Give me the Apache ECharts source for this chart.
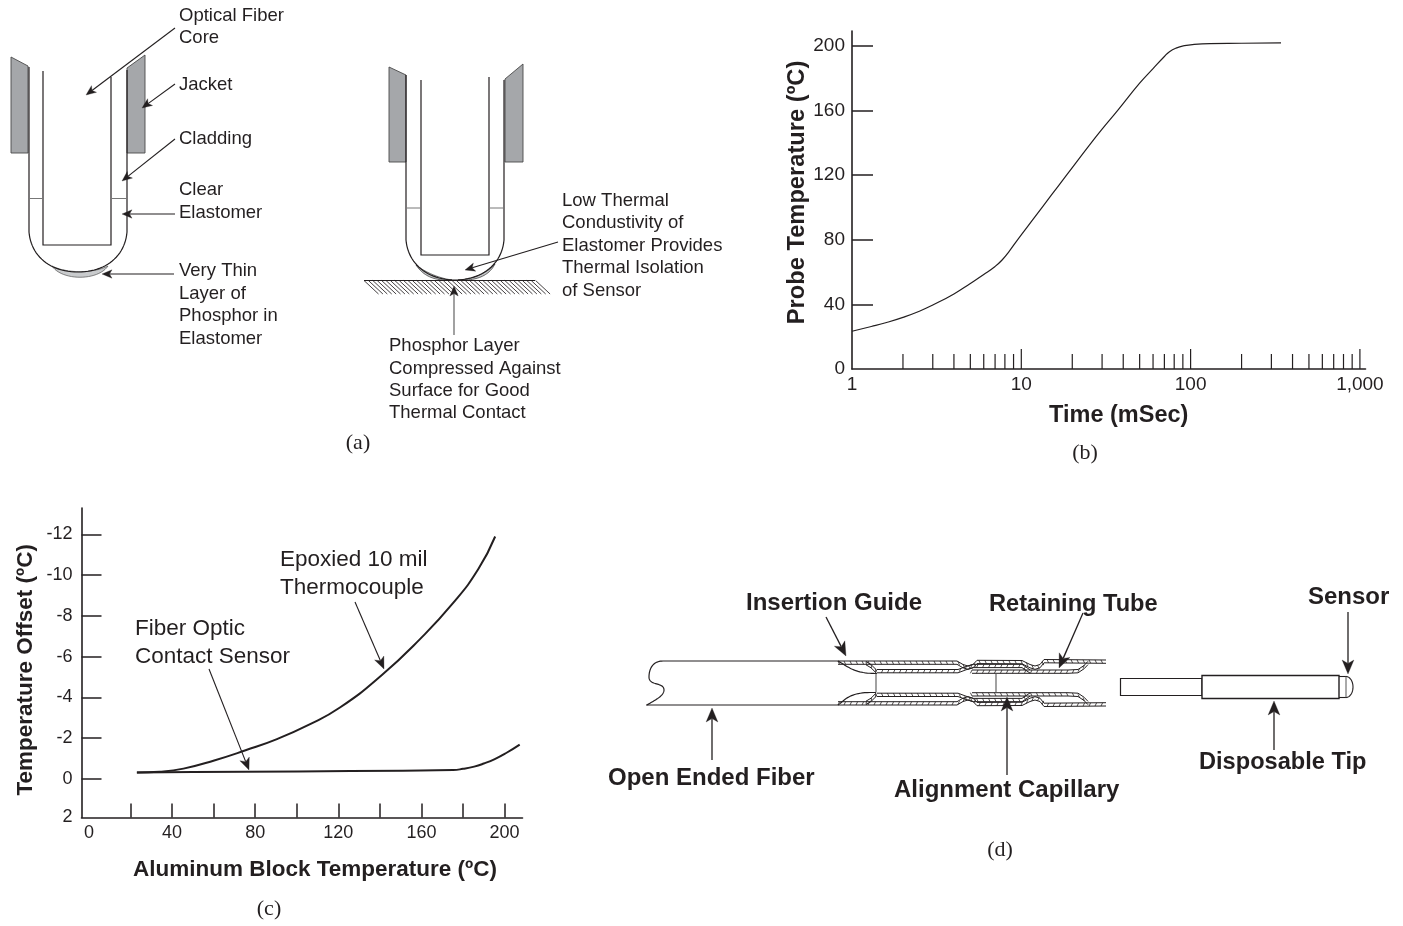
<!DOCTYPE html>
<html><head><meta charset="utf-8">
<style>html,body{margin:0;padding:0;background:#fff}#c{width:1403px;height:926px}</style>
<script src="https://cdn.jsdelivr.net/npm/echarts@6/dist/echarts.min.js"></script>
</head><body><div id="c"></div>
<script>
// ---- data: panel (b)
const timeMs = [1,1.3,1.6,2,2.5,3,4,5,6,7,7.7,8.5,9.5,12,15,18.5,25,30,37,50,60,70,75,82,92,105,130,200,342];
const probeTemp = [23.4,26.3,28.8,32,35.8,39.6,46.5,53,58.5,63.5,67.5,73,80,94,107.5,120,138,148.5,160,177,186,193.5,196.5,198.7,200.2,201,201.5,201.7,202];
const bMajorTicks = [10,100,1000];
const bMinorTicks = [2,3,4,5,6,7,8,9,20,30,40,50,60,70,80,90,200,300,400,500,600,700,800,900];
const bXLabels = {1:'1',10:'10',100:'100',1000:'1,000'};
const bYTicks = [40,80,120,160,200];
const bYLabels = [0,40,80,120,160,200];
// ---- data: panel (c)
const tcTemp = [23.1,34,45.5,60.3,75.4,90.5,105.7,120.8,141,159.2,175.4,187.4,195.5];
const tcOffset = [-0.31,-0.35,-0.5,-0.9,-1.4,-1.95,-2.65,-3.5,-5.1,-6.85,-8.65,-10.3,-11.9];
const foTemp = [23.1,50,100.6,151,175.3,180,185.4,190,195.3,201,207.3];
const foOffset = [-0.31,-0.33,-0.36,-0.4,-0.43,-0.49,-0.6,-0.75,-0.97,-1.28,-1.68];
const cXTicks = [20,40,60,80,100,120,140,160,180,200];
const cXLabels = [0,40,80,120,160,200];
const cYTicks = [-12,-10,-8,-6,-4,-2,0];
const cYLabels = [-12,-10,-8,-6,-4,-2,0,1.9];

const INK='#231f20', SANS='"Liberation Sans",Arial,sans-serif', SERIF='"Liberation Serif",serif';
const g=[];
function zip(a,b){return a.map((v,i)=>[v,b[i]]);}
function line(pts,w,color){g.push({type:'polyline',silent:true,shape:{points:pts},style:{stroke:color||INK,lineWidth:w||1.2,fill:null}});}
function poly(pts,fill,stroke,w){g.push({type:'polygon',silent:true,shape:{points:pts},style:{fill:fill,stroke:stroke||fill,lineWidth:w||0.8}});}
function bez(p0,c1,c2,p1,n){const r=[];n=n||24;for(let i=0;i<=n;i++){const t=i/n,u=1-t;
 r.push([u*u*u*p0[0]+3*u*u*t*c1[0]+3*u*t*t*c2[0]+t*t*t*p1[0],u*u*u*p0[1]+3*u*u*t*c1[1]+3*u*t*t*c2[1]+t*t*t*p1[1]]);}return r;}
function arrow(x1,y1,x2,y2,w,s,color){
 const a=Math.atan2(y2-y1,x2-x1);s=s||10;const hw=s*0.42;
 const bx=x2-s*Math.cos(a),by=y2-s*Math.sin(a),nx=x2-s*0.75*Math.cos(a),ny=y2-s*0.75*Math.sin(a);
 line([[x1,y1],[nx,ny]],w||1.1,color);
 poly([[x2,y2],[bx-hw*Math.sin(a),by+hw*Math.cos(a)],[nx,ny],[bx+hw*Math.sin(a),by-hw*Math.cos(a)]],INK,INK,0.3);
}
function text(s,x,y,size,opt){opt=opt||{};g.push({type:'text',silent:true,x:x,y:y+1,style:{text:s,fill:opt.color||INK,font:(opt.bold?'bold ':'')+size+'px '+(opt.family||SANS),textAlign:opt.align||'left',textVerticalAlign:'middle'}});}

// ---- panel (a), left probe
const GREY='#a5a7aa';
poly([[11,57],[28,66],[28,153],[11,153]],GREY,'#4a4a4a',0.9);
poly([[127,68],[145,55],[145,153],[127,153]],GREY,'#4a4a4a',0.9);
poly(bez([52,266],[65,273],[92,274],[108,266]).concat(bez([108,266],[98,281],[62,281],[52,266])),'#c9cbcd','#555',0.7);
line([[29,67],[29,232]].concat(bez([29,232],[31,256],[50,272],[78,272]),bez([78,272],[106,272],[125,256],[127,232]),[[127,70]]),1.2);
line([[43,71],[43,245],[111,245],[111,77]],1.2);
line([[29,198.5],[43,198.5]],1,'#777');line([[112,198.5],[127,198.5]],1,'#777');
arrow(175,28,86,95);arrow(175,84,142,108);arrow(175,139,122,181);arrow(175,214,122,214);arrow(174,274,102,274);
[['Optical Fiber',15],['Core',37],['Jacket',84],['Cladding',138],['Clear',189],['Elastomer',212],['Very Thin',270],['Layer of',293],['Phosphor in',315],['Elastomer',338]].forEach(t=>text(t[0],179,t[1],18.5));

// ---- panel (a), right probe
poly([[389,67],[406,75],[406,162],[389,162]],GREY,'#4a4a4a',0.9);
poly([[505,79],[523,64],[523,162],[505,162]],GREY,'#4a4a4a',0.9);
poly(bez([416,265],[425,272],[438,278],[452,280]).concat(bez([452,280],[436,281],[424,277],[416,265])),'#c4c6c8','#333',0.7);
poly(bez([458,280],[472,279],[486,274],[495,264]).concat(bez([495,264],[489,276],[476,281],[458,280])),'#c4c6c8','#333',0.7);
line([[406,75],[406,240]].concat(bez([406,240],[408,264],[428,280],[455,280]),bez([455,280],[482,280],[502,264],[504,240]),[[504,80]]),1.2);
line([[421,80],[421,255],[489,255],[489,77]],1.2);
line([[407,208],[421,208]],1,'#777');line([[490,208],[504,208]],1,'#777');
line([[364,280.5],[535,280.5]],1.2);
for(let x=364;x<=536;x+=4.4){line([[x,280.5],[x+14.5,294]],0.85,INK);}
arrow(558,242,465,270);arrow(454,335,454,286,1.1,10,'#555');
[['Low Thermal',200],['Condustivity of',222],['Elastomer Provides',245],['Thermal Isolation',267],['of Sensor',290]].forEach(t=>text(t[0],562,t[1],18.5));
[['Phosphor Layer',345],['Compressed Against',368],['Surface for Good',390],['Thermal Contact',412]].forEach(t=>text(t[0],389,t[1],18.5));

// ---- panel (c) callouts
text('Epoxied 10 mil',280,559,22.5);text('Thermocouple',280,587,22.5);
text('Fiber Optic',135,628,22.5);text('Contact Sensor',135,656,22.5);
arrow(355,602,384,669,1.1,12);arrow(209,669,249,770,1.1,12);

// ---- panel (d)
function band(pts,th,mirror,slant){
 const cy=683,m=p=>mirror?[p[0],2*cy-p[1]]:p;
 const lower=pts.map(p=>[p[0],p[1]+th]);
 line(pts.map(m),1);line(lower.map(m),1);
 let carry=0;
 for(let i=0;i<pts.length-1;i++){
  const a=pts[i],b=pts[i+1],len=Math.hypot(b[0]-a[0],b[1]-a[1]);
  for(let t=carry;t<len;t+=6){const k=t/len,x=a[0]+(b[0]-a[0])*k,y=a[1]+(b[1]-a[1])*k;
   line([m([x,y]),m([x+slant,y+th])],0.8,INK);carry=t+6-len;}
 }
}
const outerTop=[[838,661],[957,661],[963,664.5],[968,666],[973,664.5],[977,660.3],[1022,660.5],[1030,664.5],[1035,666],[1040,664.5],[1044,659.5],[1106,660]];
const midBand=[[877,669.5],[958,669.5],[966,666.5],[973,664.3],[1022,664.3],[1030,669.8]];
const innerBand=[[972,670],[1030,670],[1068,670],[1078,669.5],[1084,665.5],[1088,661.3]];
const sleeve=[[866,661.5],[871,664.5],[876,669.5]];
[false,true].forEach(mir=>{band(outerTop,3.3,mir,1.6);band(midBand,3.3,mir,-1.6);band(innerBand,3.3,mir,-1.6);band(sleeve,3.3,mir,0.5);});
line([[646,705],[838,705]].concat(bez([838,705],[843,702],[848,692.5],[870,692.5]),[[876,692.5]]),1.2);
line(bez([838,661],[850,668],[855,673.5],[877,673.5]),1.2);
line([[663,661],[838,661]],1.2);
line(bez([663,661],[652,661],[649,670],[649,677]).concat(bez([649,677],[649,686],[664,682],[664,690]),bez([664,690],[664,696],[655,700],[647,705])),1.2);
line([[876,673.5],[876,692.5]],1.1,'#555');line([[996,673.5],[996,692.5]],1.1,'#555');
poly([[1120.5,678.5],[1202,678.5],[1202,695.5],[1120.5,695.5]],'#fff',INK,1.2);
poly([[1202,675.5],[1339,675.5],[1339,698.5],[1202,698.5]],'#fff',INK,1.4);
line([[1339,676.5],[1347,676.5]],1.1);line([[1339,697.5],[1347,697.5]],1.1);line([[1346,676.5],[1346,697.5]],1,'#555');
line(bez([1347,676.5],[1355,679],[1355,695],[1347,697.5]),1.1);
arrow(826,617,846,656,1.3,14);arrow(1083,613,1059,668,1.3,14);arrow(1007,775,1007,697,1.3,14);
arrow(712,760,712,708,1.3,14);arrow(1348,612,1348,674,1.3,14);arrow(1274,750,1274,701,1.3,14);
[['Insertion Guide',746,602,24],['Retaining Tube',989,603,23.6],['Sensor',1308,596,24],['Open Ended Fiber',608,777,24],['Alignment Capillary',894,789,24],['Disposable Tip',1199,761,23.6]].forEach(t=>text(t[0],t[1],t[2],t[3],{bold:true}));

// ---- captions
[['(a)',358,442],['(b)',1085,452],['(c)',269,908],['(d)',1000,849]].forEach(t=>text(t[0],t[1],t[2],22,{family:SERIF,align:'center'}));

const axisCommon={axisLine:{onZero:false,lineStyle:{color:INK,width:1.6}},splitLine:{show:false},minorTick:{show:false}};
const labelStyle=s=>({color:INK,fontFamily:SANS,fontSize:s});
const nameStyle=(s,p)=>({color:INK,fontFamily:SANS,fontSize:s,fontWeight:'bold',padding:p});

const option={
 animation:false,backgroundColor:'#fff',
 grid:[
  {left:852,width:513.5,top:31,height:338},
  {left:81.5,width:441,top:508,height:309.5}
 ],
 xAxis:[
  Object.assign({},axisCommon,{gridIndex:0,type:'log',logBase:10,min:1,max:1079,position:'bottom',
   axisTick:{show:false},
   axisLabel:Object.assign(labelStyle(19),{margin:6,hideOverlap:false,showMinLabel:true,showMaxLabel:false,formatter:v=>bXLabels[Math.round(v)]&&Math.abs(v-Math.round(v))<1e-6?bXLabels[Math.round(v)]:''}),
   name:'Time (mSec)',nameLocation:'middle',nameGap:35,nameTextStyle:nameStyle(23.5,[0,0,0,20])}),
  Object.assign({},axisCommon,{gridIndex:1,type:'value',min:-3.56,max:208.65,position:'bottom',
   axisTick:{inside:true,length:14,lineStyle:{color:INK,width:1.5},customValues:cXTicks},
   axisLabel:Object.assign(labelStyle(18),{margin:7,customValues:cXLabels,showMinLabel:true,showMaxLabel:true}),
   name:'Aluminum Block Temperature (ºC)',nameLocation:'middle',nameGap:41,nameTextStyle:nameStyle(22.5,[0,0,0,26])})
 ],
 yAxis:[
  Object.assign({},axisCommon,{gridIndex:0,type:'value',min:0,max:209.3,position:'left',
   axisTick:{inside:true,length:21,lineStyle:{color:INK,width:1.5},customValues:bYTicks},
   axisLabel:Object.assign(labelStyle(19),{margin:7,customValues:bYLabels}),
   name:'Probe Temperature (ºC)',nameLocation:'middle',nameGap:42,nameTextStyle:nameStyle(23.7,[0,0,0,15])}),
  Object.assign({},axisCommon,{gridIndex:1,type:'value',inverse:true,min:-13.3,max:1.9,position:'left',
   axisTick:{inside:true,length:20,lineStyle:{color:INK,width:1.5},customValues:cYTicks},
   axisLabel:Object.assign(labelStyle(18),{margin:9,customValues:cYLabels,formatter:v=>String(Math.round(v))}),
   name:'Temperature Offset (ºC)',nameLocation:'middle',nameGap:44,nameTextStyle:nameStyle(22.5,[0,14,0,0])})
 ],
 series:[
  {type:'line',name:'Probe temperature',xAxisIndex:0,yAxisIndex:0,data:zip(timeMs,probeTemp),showSymbol:false,smooth:0.5,lineStyle:{color:INK,width:1.2}},
  {type:'custom',name:'Minor log ticks',xAxisIndex:0,yAxisIndex:0,silent:true,data:bMinorTicks.map(v=>[v,0]),encode:{x:0,y:1},clip:false,
   renderItem:(p,api)=>{const c=api.coord([api.value(0),0]);return {type:'line',shape:{x1:c[0],y1:c[1],x2:c[0],y2:c[1]-15},style:{stroke:INK,lineWidth:1.2}};}},
  {type:'custom',name:'Major log ticks',xAxisIndex:0,yAxisIndex:0,silent:true,data:bMajorTicks.map(v=>[v,0]),encode:{x:0,y:1},clip:false,
   renderItem:(p,api)=>{const c=api.coord([api.value(0),0]);return {type:'line',shape:{x1:c[0],y1:c[1],x2:c[0],y2:c[1]-20},style:{stroke:INK,lineWidth:1.2}};}},
  {type:'line',name:'Epoxied 10 mil Thermocouple',xAxisIndex:1,yAxisIndex:1,data:zip(tcTemp,tcOffset),showSymbol:false,smooth:0.5,lineStyle:{color:INK,width:2}},
  {type:'line',name:'Fiber Optic Contact Sensor',xAxisIndex:1,yAxisIndex:1,data:zip(foTemp,foOffset),showSymbol:false,smooth:0.5,lineStyle:{color:INK,width:2}}
 ],
 graphic:{elements:g}
};
echarts.init(document.getElementById('c'),null,{renderer:'canvas'}).setOption(option);
</script></body></html>
